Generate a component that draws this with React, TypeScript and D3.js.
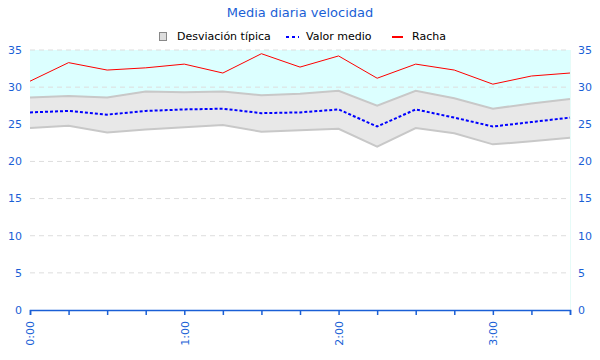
import React, { useEffect, useRef } from 'react';
import * as d3 from 'd3';

const times = ['0:00', '0:15', '0:30', '0:45', '1:00', '1:15', '1:30', '1:45', '2:00', '2:15', '2:30', '2:45', '3:00', '3:15', '3:30'];
const racha = [30.8, 33.3, 32.3, 32.6, 33.1, 31.9, 34.5, 32.7, 34.2, 31.2, 33.1, 32.3, 30.4, 31.5, 31.9];
const media = [26.6, 26.8, 26.3, 26.8, 27.0, 27.1, 26.5, 26.6, 27.0, 24.7, 27.0, 25.9, 24.7, 25.3, 25.9];
const desvSup = [28.6, 28.8, 28.6, 29.4, 29.3, 29.4, 28.9, 29.1, 29.5, 27.5, 29.5, 28.5, 27.1, 27.8, 28.4];
const desvInf = [24.5, 24.8, 23.9, 24.3, 24.6, 24.9, 24.0, 24.2, 24.4, 22.0, 24.5, 23.8, 22.3, 22.7, 23.2];
const yTicks = [0, 5, 10, 15, 20, 25, 30, 35];

const App = () => {
  const ref = useRef(null);

  useEffect(() => {
    if (!ref.current) return;
    d3.select(ref.current).selectAll('*').remove();

    const width = 600, height = 360;
    const margin = { top: 50, right: 30, bottom: 50, left: 30 };
    const font = 'DejaVu Sans, Verdana, sans-serif';
    const axisColor = '#1a5fd6';

    const svg = d3.select(ref.current)
      .append('svg')
      .attr('width', width)
      .attr('height', height)
      .style('display', 'block');

    const x = d3.scalePoint().domain(times).range([margin.left, width - margin.right]);
    const y = d3.scaleLinear().domain([0, 35]).range([height - margin.bottom, margin.top]);

    const rows = times.map((t, i) => ({ t, racha: racha[i], media: media[i], sup: desvSup[i], inf: desvInf[i] }));

    // cyan fill above the band
    svg.append('path')
      .datum(rows)
      .attr('fill', '#dcffff')
      .attr('d', d3.area().x(d => x(d.t)).y0(d => y(d.sup)).y1(y(35)));

    // faint right border of the plot
    svg.append('line')
      .attr('x1', width - margin.right + 0.5)
      .attr('x2', width - margin.right + 0.5)
      .attr('y1', y(35))
      .attr('y2', y(0))
      .attr('stroke', '#e6fbf8');

    // grid
    svg.append('g')
      .selectAll('line')
      .data(yTicks.filter(v => v > 0))
      .join('line')
      .attr('x1', margin.left)
      .attr('x2', width - margin.right)
      .attr('y1', d => y(d))
      .attr('y2', d => y(d))
      .attr('stroke', '#dddddd')
      .attr('stroke-dasharray', '5,4');

    // std deviation band
    svg.append('path')
      .datum(rows)
      .attr('fill', '#e8e8e8')
      .attr('d', d3.area().x(d => x(d.t)).y0(d => y(d.inf)).y1(d => y(d.sup)));
    ['sup', 'inf'].forEach(k => {
      svg.append('path')
        .datum(rows)
        .attr('fill', 'none')
        .attr('stroke', '#c8c8c8')
        .attr('stroke-width', 2)
        .attr('d', d3.line().x(d => x(d.t)).y(d => y(d[k])));
    });

    // racha
    svg.append('path')
      .datum(rows)
      .attr('fill', 'none')
      .attr('stroke', '#ff0000')
      .attr('stroke-width', 1)
      .attr('d', d3.line().x(d => x(d.t)).y(d => y(d.racha)));

    // media
    svg.append('path')
      .datum(rows)
      .attr('fill', 'none')
      .attr('stroke', '#0000ff')
      .attr('stroke-width', 2)
      .attr('stroke-dasharray', '3,2')
      .attr('d', d3.line().x(d => x(d.t)).y(d => y(d.media)));

    // x axis
    const xAxis = svg.append('g')
      .attr('transform', `translate(0,${y(0)})`)
      .call(d3.axisBottom(x).tickSize(5).tickFormat(d => (d.endsWith(':00') ? d : '')));
    xAxis.select('.domain').attr('stroke', axisColor).attr('stroke-width', 1.5);
    xAxis.selectAll('.tick line').attr('stroke', axisColor).attr('stroke-width', 1.5);
    xAxis.selectAll('.tick text')
      .attr('fill', axisColor)
      .attr('font-family', font)
      .attr('font-size', 11)
      .attr('transform', 'rotate(-90)')
      .attr('text-anchor', 'end')
      .attr('x', -11)
      .attr('y', 0)
      .attr('dy', '0.35em');

    // y labels left and right
    const yl = svg.append('g')
      .attr('font-family', font)
      .attr('font-size', 11)
      .attr('fill', axisColor);
    yl.selectAll('.l')
      .data(yTicks)
      .join('text')
      .attr('x', 22)
      .attr('y', d => y(d))
      .attr('dy', '0.35em')
      .attr('text-anchor', 'end')
      .text(d => d);
    yl.selectAll('.r')
      .data(yTicks)
      .join('text')
      .attr('x', 578)
      .attr('y', d => y(d))
      .attr('dy', '0.35em')
      .attr('text-anchor', 'start')
      .text(d => d);

    // title
    svg.append('text')
      .attr('x', 300)
      .attr('y', 17)
      .attr('text-anchor', 'middle')
      .attr('font-family', font)
      .attr('font-size', 13)
      .attr('fill', '#1a5fd6')
      .text('Media diaria velocidad');

    // legend
    const lg = svg.append('g').attr('font-family', font).attr('font-size', 11).attr('fill', '#000');
    lg.append('rect').attr('x', 159.5).attr('y', 32.5).attr('width', 7).attr('height', 8)
      .attr('fill', '#dddddd').attr('stroke', '#888');
    lg.append('text').attr('x', 177).attr('y', 40).text('Desviación típica');
    lg.append('line').attr('x1', 286).attr('x2', 299).attr('y1', 37).attr('y2', 37)
      .attr('stroke', '#0000ff').attr('stroke-width', 2).attr('stroke-dasharray', '3,3');
    lg.append('text').attr('x', 306).attr('y', 40).text('Valor medio');
    lg.append('line').attr('x1', 392).attr('x2', 403).attr('y1', 37).attr('y2', 37)
      .attr('stroke', '#ff0000').attr('stroke-width', 2);
    lg.append('text').attr('x', 412).attr('y', 40).text('Racha');
  }, []);

  return <div ref={ref} style={{ margin: -8 }}></div>;
};

export default App;
